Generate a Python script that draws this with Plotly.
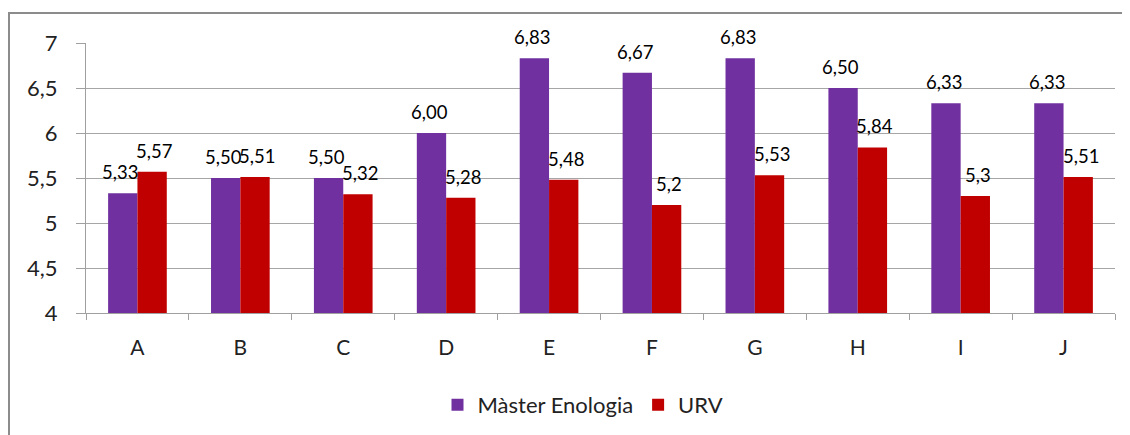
import plotly.graph_objects as go

categories = ["A", "B", "C", "D", "E", "F", "G", "H", "I", "J"]
master = [5.33, 5.50, 5.50, 6.00, 6.83, 6.67, 6.83, 6.50, 6.33, 6.33]
urv = [5.57, 5.51, 5.32, 5.28, 5.48, 5.2, 5.53, 5.84, 5.3, 5.51]
series_names = ["Màster Enologia", "URV"]
colors = ["#7030A0", "#C00000"]
y_ticks = [4, 4.5, 5, 5.5, 6, 6.5, 7]

FONT = "Lato"

fig = go.Figure()
fig.add_trace(go.Bar(x=categories, y=master, name=series_names[0],
                     marker=dict(color=colors[0], line=dict(width=0))))
fig.add_trace(go.Bar(x=categories, y=urv, name=series_names[1],
                     marker=dict(color=colors[1], line=dict(width=0))))

annotations = []
for c, v in zip(categories, master):
    annotations.append(dict(x=c, y=v, xref="x", yref="y", text=f"{v:.2f}".replace(".", ","),
                            showarrow=False, xshift=-17, yshift=21, yanchor="middle",
                            font=dict(family=FONT, size=18.5, color="#000")))
for c, v in zip(categories, urv):
    annotations.append(dict(x=c, y=v, xref="x", yref="y", text=str(v).replace(".", ","),
                            showarrow=False, xshift=17, yshift=21, yanchor="middle",
                            font=dict(family=FONT, size=18.5, color="#000")))

# page has an 8px body margin; size the figure so it fits the 1130x435 window
OFF = 8
W, H = 1130 - OFF, 435 - OFF
L = 86 - OFF
R = W - (1115 - OFF)
T = 43 - OFF
B = H - (313 - OFF)
pw, ph = W - L - R, H - T - B

def px_x(p):
    return (p - OFF - L) / pw

def px_y(p):
    return 1 - (p - OFF - T) / ph

fig.add_shape(type="rect", xref="paper", yref="paper",
              x0=px_x(9), x1=px_x(1150), y0=px_y(460), y1=px_y(13),
              line=dict(color="#8c8c8c", width=2), fillcolor="rgba(0,0,0,0)", layer="below")

fig.update_layout(
    width=W, height=H,
    margin=dict(l=L, r=R, t=T, b=B, autoexpand=False),
    paper_bgcolor="white", plot_bgcolor="white",
    separators=",.",
    barmode="group", bargap=0.43, bargroupgap=0,
    font=dict(family=FONT, color="#222"),
    annotations=annotations,
    legend=dict(orientation="h", x=px_x(583), xanchor="center", y=px_y(405), yanchor="middle",
                font=dict(family=FONT, size=22, color="#222"), itemwidth=30,
                bgcolor="rgba(0,0,0,0)"),
    xaxis=dict(showline=True, linecolor="#a0a0a0", linewidth=1, ticks="outside",
               tickson="boundaries", ticklen=6, tickcolor="#a0a0a0", automargin=False,
               tickfont=dict(family=FONT, size=21, color="#222"), ticklabelstandoff=16),
    yaxis=dict(range=[4, 7], tickvals=y_ticks, showgrid=True, gridcolor="#a6a6a6",
               gridwidth=1, showline=True, linecolor="#a0a0a0", linewidth=1,
               ticks="outside", ticklen=9, tickcolor="#a0a0a0", automargin=False,
               tickfont=dict(family=FONT, size=22, color="#222"), ticklabelstandoff=14,
               zeroline=False),
)

fig.write_html("out.html")
